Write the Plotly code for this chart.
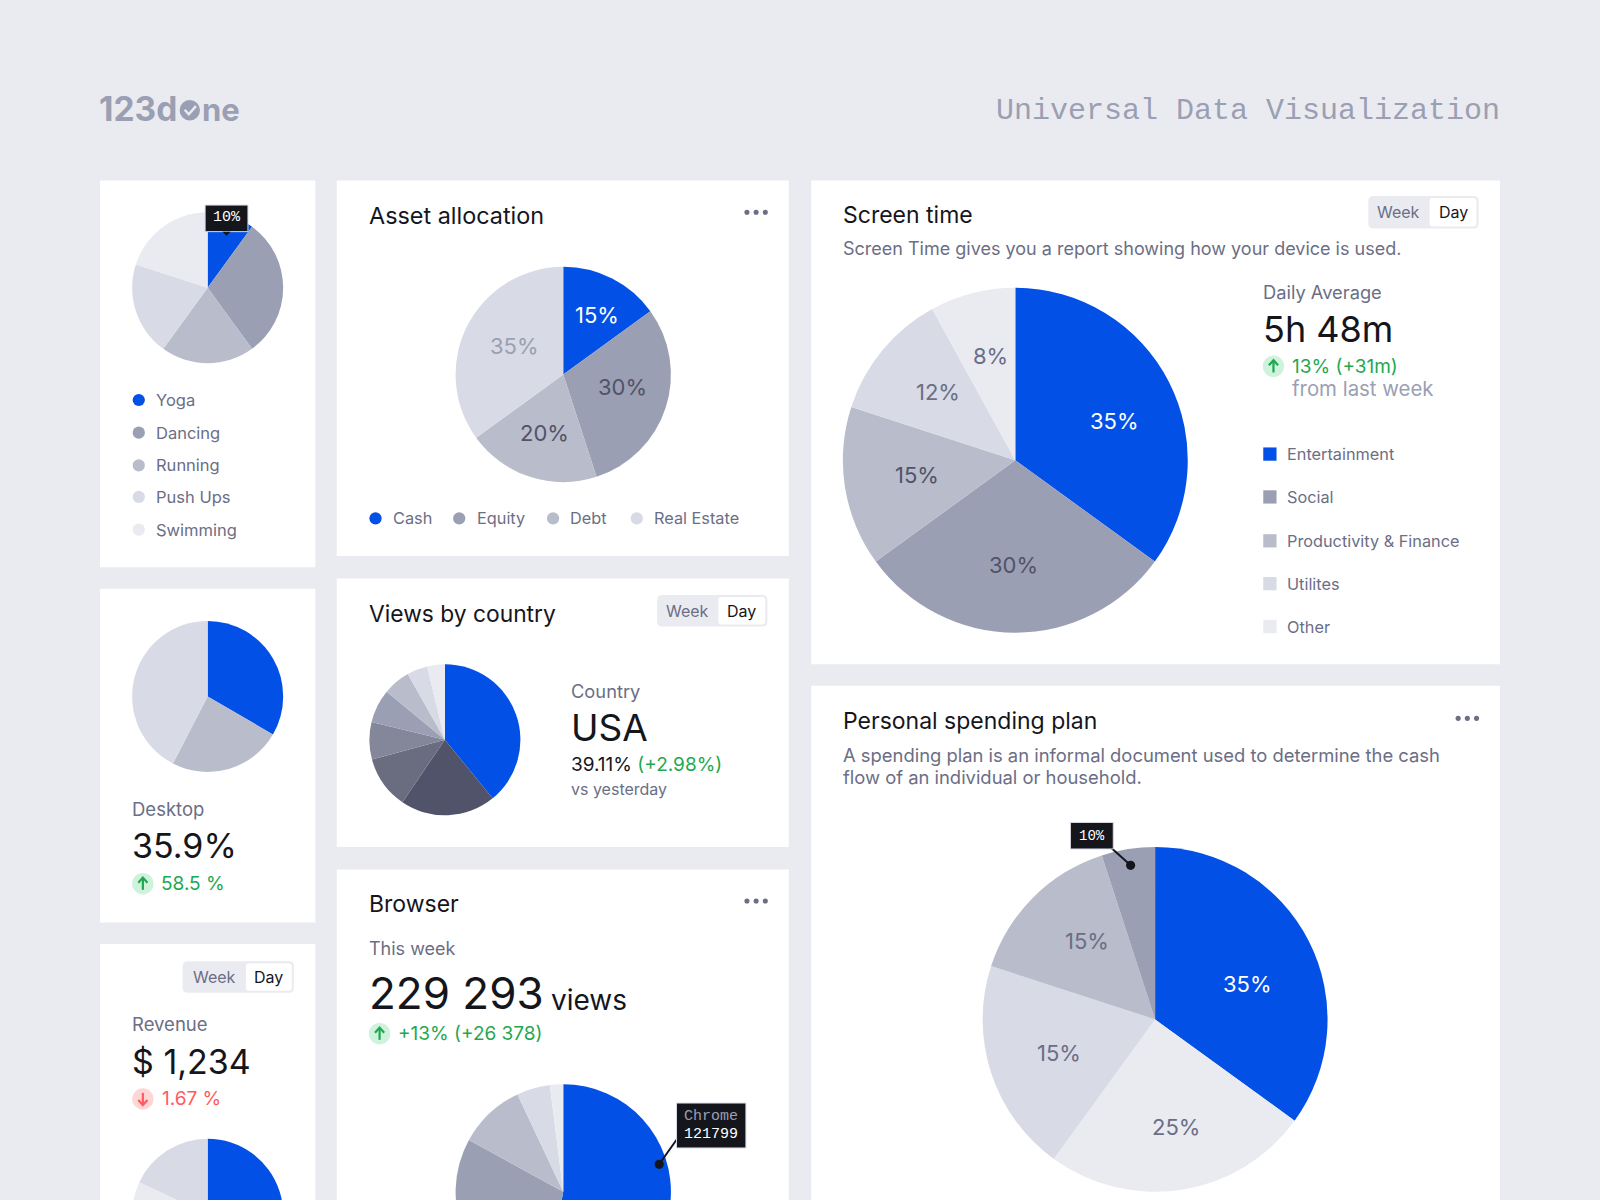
import math
import plotly.graph_objects as go

W, H = 1600, 1330
S = 1600 / 1568
BG = "#eaebf1"; BLUE = "#0250e5"; G1 = "#9b9fb3"; G2 = "#b9bccb"; G3 = "#d8dae5"; G4 = "#eaebf1"
DK = "#50536a"; DK2 = "#6a6c80"; DK3 = "#84879a"
INK = "#15161c"; MID = "#6b6e85"; GREEN = "#1fa84f"; LGREEN = "#cff2dc"; RED = "#ff5a5f"; LRED = "#ffd6d6"
SANS = "Inter"; MONO = "Liberation Mono"

# --- data ---
activity_names = ["Yoga", "Dancing", "Running", "Push Ups", "Swimming"]
activity_values = [10, 30, 20, 20, 20]
device_names = ["Desktop", "Mobile", "Tablet"]
device_values = [33.4, 24.2, 42.4]
revenue_names = ["A", "B", "C", "D"]
revenue_values = [40, 20, 22, 18]
asset_names = ["Cash", "Equity", "Debt", "Real Estate"]
asset_values = [15, 30, 20, 35]
asset_labels = ["15%", "30%", "20%", "35%"]
country_values = [39.11, 20.4, 11.3, 8.0, 7.2, 5.8, 4.4, 3.79]
browser_values = [53, 30, 10, 5, 2]
screen_names = ["Entertainment", "Social", "Productivity & Finance", "Utilites", "Other"]
screen_values = [35, 30, 15, 12, 8]
screen_labels = ["35%", "30%", "15%", "12%", "8%"]
spend_values = [35, 25, 20, 15, 5]
spend_labels = ["35%", "25%", "15%", "15%", ""]

shapes, annos, traces = [], [], []
fx = lambda x: x * S / W
fy = lambda y: 1 - y * S / H


def rect(x0, y0, x1, y1, color, layer="below", line=None):
    shapes.append(dict(type="rect", xref="paper", yref="paper", x0=fx(x0), x1=fx(x1), y0=fy(y0), y1=fy(y1),
                       fillcolor=color, line=dict(width=line[1], color=line[0]) if line else dict(width=0), layer=layer))


def rrect(x0, y0, x1, y1, r, color, layer="below"):
    def P(x, y):
        return f"{fx(x):.5f} {fy(y):.5f}"
    p = (f"M {P(x0 + r, y0)} L {P(x1 - r, y0)} Q {P(x1, y0)} {P(x1, y0 + r)} L {P(x1, y1 - r)} Q {P(x1, y1)} {P(x1 - r, y1)} "
         f"L {P(x0 + r, y1)} Q {P(x0, y1)} {P(x0, y1 - r)} L {P(x0, y0 + r)} Q {P(x0, y0)} {P(x0 + r, y0)} Z")
    shapes.append(dict(type="path", xref="paper", yref="paper", path=p, fillcolor=color, line=dict(width=0), layer=layer))


def circ(cx, cy, r, color, layer="below"):
    shapes.append(dict(type="circle", xref="paper", yref="paper", x0=fx(cx - r), x1=fx(cx + r),
                       y0=fy(cy + r), y1=fy(cy - r), fillcolor=color, line=dict(width=0), layer=layer))


def seg(pts, color, width, layer="above"):
    p = "M " + " L ".join(f"{fx(x):.5f} {fy(y):.5f}" for x, y in pts)
    shapes.append(dict(type="path", xref="paper", yref="paper", path=p, line=dict(color=color, width=width), layer=layer))


def T(x, y, text, size=17, color=INK, anchor="left", font=SANS, weight=None):
    if anchor == "left":
        x -= 1
    f = dict(family=font, size=size, color=color)
    if weight:
        f["weight"] = weight
    annos.append(dict(x=fx(x), y=fy(y), xref="paper", yref="paper", text=text, showarrow=False, xanchor=anchor,
                      yanchor="middle", align=anchor, borderpad=0, font=f))


def pie(cx, cy, r, values, colors, labels=None, lcolors=None, lr=0.6, nudge=None, lsize=22):
    c, rr = cx * S, r * S
    traces.append(go.Pie(values=values, sort=False, direction="clockwise", rotation=0, textinfo="none",
                         hoverinfo="skip", showlegend=False, marker=dict(colors=colors, line=dict(width=0)),
                         domain=dict(x=[(c - rr) / W, (c + rr) / W],
                                     y=[1 - (cy + r) * S / H, 1 - (cy - r) * S / H])))
    if labels:
        tot, cum = sum(values), 0
        for v, lab, col, nd in zip(values, labels, lcolors, nudge):
            a = 2 * math.pi * (cum + v / 2) / tot
            cum += v
            if lab:
                T(cx + lr * r * math.sin(a) + nd[0], cy - lr * r * math.cos(a) + nd[1], lab, lsize, col, "center")


def toggle(x0, y0, x1, y1, xw, xd, split):
    rrect(x0, y0, x1, y1, 5, BG)
    rrect(split, y0 + 2, x1 - 2, y1 - 2, 3, "#ffffff")
    T(xw, (y0 + y1) / 2, "Week", 16, MID, "center")
    T(xd, (y0 + y1) / 2, "Day", 16, INK, "center")


def dots(cx, cy):
    for d in (-9, 0, 9):
        circ(cx + d, cy, 2.5, MID)


def badge(cx, cy, up=True):
    col, bg = (GREEN, LGREEN) if up else (RED, LRED)
    circ(cx, cy, 10.5, bg)
    s = 1 if up else -1
    seg([(cx, cy - 5.5 * s), (cx, cy + 6 * s)], col, 2.2)
    seg([(cx - 4.5, cy - 1 * s), (cx, cy - 6 * s), (cx + 4.5, cy - 1 * s)], col, 2.2)


def tip(x0, y0, x1, y1):
    rect(x0, y0, x1, y1, INK, "above", ("#d8dae5", 1))


# page background cards
for c in [(98, 177, 309, 556), (98, 577, 309, 904), (98, 925, 309, 1300), (330, 177, 773, 545),
          (330, 567, 773, 830), (330, 852, 773, 1300), (795, 177, 1470, 651), (795, 672, 1470, 1300)]:
    rect(*c, "#ffffff")

# header
T(97, 107, "123d", 33.5, G1, "left", SANS, 700)
circ(186, 108, 10, G1)
seg([(181, 107.5), (185, 112), (192, 104)], BG, 2.4)
T(198, 107, "ne", 31, G1, "left", SANS, 700)
T(1470.5, 109, "Universal Data Visualization", 30, G1, "right", MONO)

# card A
pie(203.5, 282, 74, activity_values, [BLUE, G1, G2, G3, G4])
tip(201, 201, 243, 227)
shapes.append(dict(type="path", xref="paper", yref="paper", layer="above", fillcolor=INK, line=dict(width=0),
                   path=f"M {fx(218):.5f} {fy(227):.5f} L {fx(226):.5f} {fy(227):.5f} L {fx(222):.5f} {fy(231):.5f} Z"))
T(222, 213.5, "10%", 15, "#ffffff", "center", MONO)
for n, c, y in zip(activity_names, [BLUE, G1, G2, G3, G4], [392, 424, 456, 487, 519]):
    circ(136, y, 6, c)
    T(153, y, n, 16.5, MID)

# card B
pie(203.5, 682.5, 74, device_values, [BLUE, G2, G3])
T(129.5, 793, device_names[0], 18.5, MID)
T(129.5, 829, "35.9%", 34, INK)
badge(140, 866)
T(158, 866, "58.5 %", 19, GREEN)

# card C
toggle(179, 942, 288, 973, 210, 263, 241)
T(129.5, 1004, "Revenue", 18.5, MID)
T(129, 1040, "$ 1,234", 34, INK)
badge(140, 1077, False)
T(158.5, 1077, "1.67 %", 19, RED)
pie(203.5, 1190, 74, revenue_values, [BLUE, G2, G4, G3])

# card D
T(362, 211, "Asset allocation", 23.4)
dots(741, 208)
pie(552, 367, 105.5, asset_values, [BLUE, G1, G2, G3], asset_labels, ["#ffffff", DK, DK, G1], 0.57,
    [(6, -5), (1, -6), (0, 0), (6, -1)])
for n, c, xd, xt in zip(asset_names, [BLUE, G1, G2, G3], [368, 450, 542, 624], [385, 467, 559, 641]):
    circ(xd, 508, 6, c)
    T(xt, 508, n, 16.3, MID)

# card E
T(362, 601, "Views by country", 22.8)
toggle(644, 583, 752, 614, 674, 727, 704)
pie(436, 725, 74, country_values, [BLUE, DK, DK2, DK3, G1, G2, G3, G4])
T(560, 677, "Country", 18.3, MID)
T(560, 713, "USA", 37, INK)
T(560, 749, f'39.11% <span style="color:{GREEN}">(+2.98%)</span>', 19, INK)
T(560, 773, "vs yesterday", 16, MID)

# card F
T(362, 886, "Browser", 23)
dots(741, 883)
T(362, 930, "This week", 18, MID)
T(362, 973, "229 293", 44, INK)
T(540, 980, "views", 28, INK)
badge(372, 1013)
T(390, 1013, "+13% (+26 378)", 19, GREEN)
pie(552, 1168, 105.5, browser_values, [BLUE, G1, G2, G3, G4])
seg([(663, 1117), (646, 1141)], INK, 2)
circ(646, 1141, 4.5, INK, "above")
tip(663, 1081, 731, 1125)
T(697, 1094, "Chrome", 15, G1, "center", MONO)
T(697, 1112, "121799", 15, "#ffffff", "center", MONO)

# card G
T(826, 211, "Screen time", 23)
toggle(1341, 192, 1449, 224, 1371, 1424, 1401)
T(826, 244, "Screen Time gives you a report showing how your device is used.", 18, MID)
pie(995, 451, 169, screen_values, [BLUE, G1, G2, G3, G4], screen_labels, ["#ffffff", DK, DK, MID, MID], 0.6,
    [(7, 8), (-2, 1), (4, -1), (2, -2), (1, -4)])
T(1238, 286, "Daily Average", 18.3, MID)
T(1238, 322, "5h 48m", 36, INK)
badge(1248, 359)
T(1266, 359, "13% (+31m)", 19, GREEN)
T(1266, 381, "from last week", 20.4, G1)
for n, c, y in zip(screen_names, [BLUE, G1, G2, G3, G4], [445, 487, 530, 572, 614]):
    rect(1238, y - 6.5, 1251, y + 6.5, c)
    T(1261, y, n, 16.3, MID)

# card H
T(826, 707, "Personal spending plan", 23)
dots(1438, 704)
T(826, 740, "A spending plan is an informal document used to determine the cash", 18.4, MID)
T(826, 761, "flow of an individual or household.", 18.4, MID)
pie(1132, 999, 169, spend_values, [BLUE, G4, G3, G2, G1], spend_labels, ["#ffffff", MID, MID, MID, MID], 0.59,
    [(2, 11), (5, 7), (1, 2), (4, -6), (0, 0)])
seg([(1088, 830), (1108, 848)], INK, 2)
circ(1108, 848, 4.5, INK, "above")
tip(1049, 806, 1091, 832)
T(1070, 819, "10%", 14, "#ffffff", "center", MONO)

fig = go.Figure(traces)
fig.update_layout(width=W, height=H, margin=dict(l=0, r=0, t=0, b=0, pad=0), paper_bgcolor=BG, plot_bgcolor=BG,
                  shapes=shapes, annotations=annos, showlegend=False)
fig.write_html("out.html", config={"displayModeBar": False}, post_script=(
    "document.documentElement.style.overflow='hidden';document.body.style.overflow='hidden';"
    "document.body.style.margin='0';document.body.style.height='1200px';document.body.style.background='#eaebf1';"))
